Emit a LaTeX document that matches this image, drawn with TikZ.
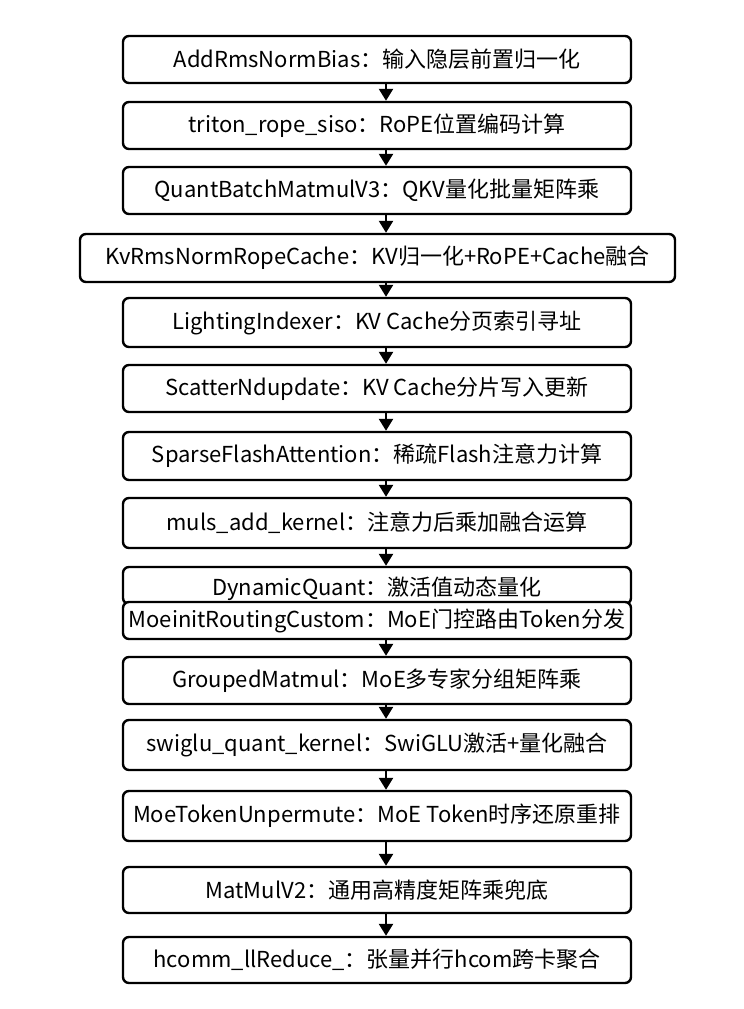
\documentclass[tikz,border=0pt]{standalone}
\usepackage{fontspec}
\setmainfont{Noto Sans CJK SC}
\usetikzlibrary{arrows.meta}
\begin{document}
\begin{tikzpicture}[x=1pt,y=-1pt,
  box/.style={draw=black, line width=2.4pt, rounded corners=6pt, fill=white,
    minimum width=508pt, inner sep=0pt, font=\fontsize{22}{26}\selectfont},
  lbl/.style={inner sep=0pt, font=\fontsize{22}{26}\selectfont},
  flow/.style={line width=2.4pt, -{Triangle[width=14pt,length=12pt]}}]
\useasboundingbox[fill=white] (0,0) rectangle (744,1009);
\coordinate (ax) at (386,0);

\node[box, minimum height=47pt] (b1) at (377,59.5) {AddRmsNormBias：输入隐层前置归一化};
\node[box, minimum height=47pt] (b2) at (377,125.5) {triton\_rope\_siso：RoPE位置编码计算};
\node[box, minimum height=47pt] (b3) at (377,190.5) {QuantBatchMatmulV3：QKV量化批量矩阵乘};
\node[box, minimum height=48pt, minimum width=595pt] (b4) at (377.5,258) {KvRmsNormRopeCache：KV归一化+RoPE+Cache融合};
\node[box, minimum height=49pt] (b5) at (377,322.5) {LightingIndexer：KV Cache分页索引寻址};
\node[box, minimum height=47pt] (b6) at (377,388.5) {ScatterNdupdate：KV Cache分片写入更新};
\node[box, minimum height=48pt] (b7) at (377,456) {SparseFlashAttention：稀疏Flash注意力计算};
\node[box, minimum height=50pt] (b8) at (377,523) {muls\_add\_kernel：注意力后乘加融合运算};
\node[box, minimum height=37pt] (b9) at (377,585.5) {};
\node[lbl] (t9) at (377,589) {DynamicQuant：激活值动态量化};
\node[box, minimum height=37pt] (b10) at (377,620.5) {MoeinitRoutingCustom：MoE门控路由Token分发};
\node[box, minimum height=47pt] (b11) at (377,680.5) {GroupedMatmul：MoE多专家分组矩阵乘};
\node[box, minimum height=50pt] (b12) at (377,745) {swiglu\_quant\_kernel：SwiGLU激活+量化融合};
\node[box, minimum height=50pt] (b13) at (377,816) {MoeTokenUnpermute：MoE Token时序还原重排};
\node[box, minimum height=46pt] (b14) at (377,890) {MatMulV2：通用高精度矩阵乘兜底};
\node[box, minimum height=46pt] (b15) at (377,960) {hcomm\_llReduce\_：张量并行hcom跨卡聚合};

\foreach \a/\b in {b1/b2,b2/b3,b3/b4,b4/b5,b5/b6,b6/b7,b7/b8,b8/b9,b10/b11,b11/b12,b12/b13,b13/b14,b14/b15}
  \draw[flow] (\a.south -| ax) -- (\b.north -| ax);
\end{tikzpicture}
\end{document}
